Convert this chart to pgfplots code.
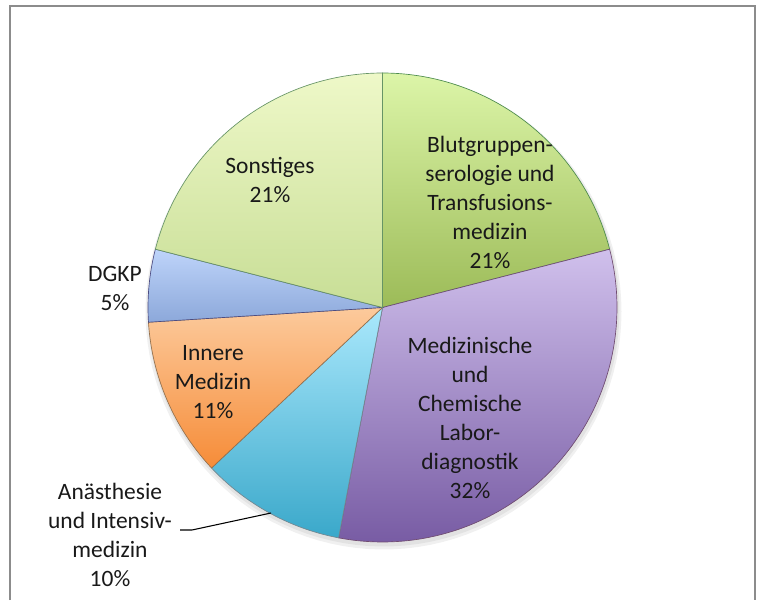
\documentclass[border=0pt]{standalone}
\usepackage{fontspec}
\setmainfont{Carlito}
\usepackage{pgfplots}
\pgfplotsset{compat=1.18}
\usepackage{pgfplotstable}

% share of each field, clockwise from 12 o'clock
\pgfplotstableread{
idx pct
0 21
1 32
2 10
3 11
4 5
5 21
}\piedata

\definecolor{bordergray}{HTML}{8C8C8C}
\pgfplotsset{
  slice0/.style={draw=green!35!black!70, top color={rgb,255:red,220;green,245;blue,168}, bottom color={rgb,255:red,156;green,187;blue,88}},
  slice1/.style={draw=violet!40!black!70, top color={rgb,255:red,208;green,192;blue,236}, bottom color={rgb,255:red,120;green,92;blue,164}},
  slice2/.style={draw=cyan!30!black!70, top color={rgb,255:red,170;green,232;blue,252}, bottom color={rgb,255:red,58;green,168;blue,202}},
  slice3/.style={draw=orange!40!black!70, top color={rgb,255:red,252;green,202;blue,156}, bottom color={rgb,255:red,246;green,140;blue,56}},
  slice4/.style={draw=blue!30!black!70, top color={rgb,255:red,190;green,212;blue,250}, bottom color={rgb,255:red,140;green,168;blue,218}},
  slice5/.style={draw=green!30!black!60, top color={rgb,255:red,238;green,248;blue,200}, bottom color={rgb,255:red,200;green,222;blue,150}},
}

\begin{document}
\begin{tikzpicture}
\begin{axis}[
  x=0.75pt, y=0.75pt,
  xmin=0, xmax=763, ymin=0, ymax=600,
  at={(0,0)}, anchor=origin,
  hide axis, clip=false,
  every axis plot/.append style={line width=0.5pt},
]
% soft shadow
\addplot[draw=none, fill=black, fill opacity=0.06, domain=0:360, samples=120] ({383.5+238*cos(x)},{288.5+238*sin(x)});
\addplot[draw=none, fill=black, fill opacity=0.06, domain=0:360, samples=120] ({383.5+236*cos(x)},{289.5+236*sin(x)});

\def\cum{0}
\pgfplotsforeachungrouped \i in {0,...,5}{%
  \pgfplotstablegetelem{\i}{pct}\of\piedata
  \let\p=\pgfplotsretval
  \pgfmathsetmacro\a{90-3.6*\cum}%
  \pgfmathsetmacro\cum{\cum+\p}%
  \pgfmathsetmacro\b{90-3.6*\cum}%
  \edef\tmp{\noexpand\addplot[slice\i, domain=\b:\a, samples=90] ({382.5+234.5*cos(x)},{292.5+234.5*sin(x)}) -- (axis cs:382.5,292.5) -- cycle;}%
  \tmp
}

% frame
\draw[bordergray, line width=1.5pt] (axis cs:10,0) -- (axis cs:10,594) -- (axis cs:755,594) -- (axis cs:755,0);

% leader line
\draw[black, line width=0.8pt] (axis cs:180,70) -- (axis cs:192,70) -- (axis cs:271,87);

\tikzset{lab/.style={align=center, inner sep=0pt, text=black!90, font=\fontsize{17.6}{21.75}\selectfont}}
\node[lab] at (axis cs:490,397.5) {Blutgruppen-\\serologie und\\Transfusions-\\medizin\\21\%};
\node[lab] at (axis cs:470,182.5) {Medizinische\\und\\Chemische\\Labor-\\diagnostik\\32\%};
\node[lab] at (axis cs:110,65) {Anästhesie\\und Intensiv-\\medizin\\10\%};
\node[lab] at (axis cs:213,217.5) {Innere\\Medizin\\11\%};
\node[lab] at (axis cs:115,312) {DGKP\\5\%};
\node[lab] at (axis cs:270,420) {Sonstiges\\21\%};
\end{axis}
\pgfresetboundingbox
\path (0,0) rectangle (572.25pt,450pt);
\end{tikzpicture}
\end{document}
